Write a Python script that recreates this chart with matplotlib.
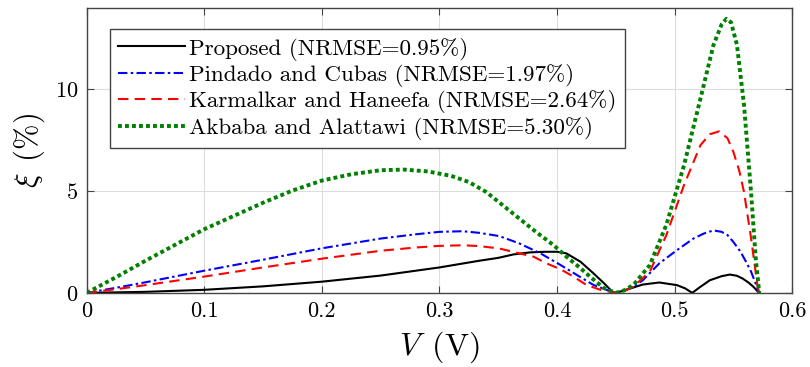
import numpy as np
import matplotlib
matplotlib.use("Agg")
import matplotlib.pyplot as plt

plt.rcParams['font.family'] = ['cmr10', 'DejaVu Serif']
plt.rcParams['mathtext.fontset'] = 'cm'
plt.rcParams['axes.formatter.use_mathtext'] = True
plt.rcParams['axes.unicode_minus'] = False

# Proposed
v_prop = [0, 0.05, 0.1, 0.15, 0.2, 0.25, 0.3, 0.334, 0.35, 0.363, 0.377, 0.39, 0.40,
          0.408, 0.42, 0.431, 0.44, 0.448, 0.455, 0.462, 0.473, 0.487, 0.502, 0.509,
          0.515, 0.522, 0.53, 0.54, 0.547, 0.553, 0.558, 0.563, 0.567, 0.571, 0.572]
xi_prop = [0, 0.05, 0.15, 0.32, 0.55, 0.85, 1.25, 1.58, 1.72, 1.89, 1.99, 2.02, 2.02,
           1.94, 1.53, 0.96, 0.47, 0.0, 0.08, 0.21, 0.41, 0.51, 0.38, 0.22,
           0.0, 0.3, 0.62, 0.82, 0.9, 0.84, 0.7, 0.5, 0.3, 0.05, 0]

# Pindado and Cubas
v_pind = [0, 0.025, 0.05, 0.1, 0.15, 0.2, 0.25, 0.28, 0.3, 0.32, 0.334, 0.351, 0.368, 0.386,
          0.403, 0.42, 0.431, 0.442, 0.45, 0.457, 0.465, 0.473, 0.487, 0.502, 0.516,
          0.525, 0.533, 0.54, 0.545, 0.55, 0.556, 0.561, 0.565, 0.568, 0.5705, 0.572]
xi_pind = [0, 0.25, 0.52, 1.09, 1.63, 2.19, 2.67, 2.88, 3.0, 3.03, 2.95, 2.79, 2.43, 1.94,
           1.37, 0.77, 0.39, 0.15, 0.0, 0.1, 0.3, 0.62, 1.45, 2.1, 2.67,
           2.92, 3.07, 3.0, 2.84, 2.5, 2.03, 1.5, 1.05, 0.6, 0.2, 0]

# Karmalkar and Haneefa
v_karm = [0, 0.025, 0.05, 0.1, 0.15, 0.2, 0.25, 0.28, 0.3, 0.32, 0.334, 0.351, 0.368, 0.38,
          0.391, 0.403, 0.414, 0.425, 0.437, 0.45, 0.457, 0.465, 0.479, 0.493, 0.508,
          0.522, 0.53, 0.538, 0.545, 0.55, 0.555, 0.559, 0.565, 0.5705, 0.572]
xi_karm = [0, 0.18, 0.38, 0.8, 1.25, 1.68, 2.07, 2.23, 2.31, 2.34, 2.3, 2.18, 1.94, 1.78,
           1.45, 1.16, 0.8, 0.39, 0.15, 0.0, 0.1, 0.3, 1.05, 2.84, 5.3,
           7.26, 7.8, 7.94, 7.6, 6.93, 6.0, 4.97, 2.7, 0.35, 0]

# Akbaba and Alattawi
v_akb = [0, 0.025, 0.05, 0.1, 0.15, 0.175, 0.2, 0.225, 0.25, 0.27, 0.29, 0.31, 0.325,
         0.34, 0.354, 0.368, 0.382, 0.397, 0.408, 0.42, 0.428, 0.44, 0.45, 0.457,
         0.465, 0.479, 0.493, 0.508, 0.522, 0.533, 0.54, 0.544, 0.548, 0.553, 0.559,
         0.565, 0.569, 0.572]
xi_akb = [0, 0.77, 1.58, 3.13, 4.43, 5.03, 5.52, 5.83, 6.03, 6.06, 5.97, 5.75, 5.45,
          4.95, 4.3, 3.65, 3.0, 2.35, 1.78, 1.21, 0.8, 0.23, 0.0, 0.12,
          0.39, 1.37, 3.35, 6.27, 9.55, 12.17, 13.2, 13.47, 13.3, 12.2, 9.26,
          4.97, 1.7, 0]

labels = ['Proposed (NRMSE=0.95%)',
          'Pindado and Cubas (NRMSE=1.97%)',
          'Karmalkar and Haneefa (NRMSE=2.64%)',
          'Akbaba and Alattawi (NRMSE=5.30%)']

fig = plt.figure(figsize=(8.1, 3.67), dpi=100)
ax = fig.add_axes([0.107, 0.202, 0.871, 0.776])

ax.plot(v_prop, xi_prop, '-', color='k', lw=1.5, label=labels[0])
ax.plot(v_pind, xi_pind, color='#0000ff', lw=1.5, dashes=(4.5, 1.6, 1.2, 1.6), label=labels[1])
ax.plot(v_karm, xi_karm, color='#ff0000', lw=1.5, dashes=(5, 3), label=labels[2])
ax.plot(v_akb, xi_akb, color='#008000', lw=2.8, dashes=(1, 0.8), label=labels[3])

ax.set_xlim(0, 0.6)
ax.set_ylim(0, 14)
ax.set_xticks([0, 0.1, 0.2, 0.3, 0.4, 0.5, 0.6])
ax.set_xticklabels(['0', '0.1', '0.2', '0.3', '0.4', '0.5', '0.6'])
ax.set_yticks([0, 5, 10])
ax.tick_params(direction='in', top=True, right=True, labelsize=16, length=5,
               color='#444444', pad=6)
ax.grid(True, color='#dddddd', lw=0.8)
for s in ax.spines.values():
    s.set_color('#444444')
    s.set_linewidth(1.0)

ax.set_xlabel(r'$V\enspace(\mathrm{V})$', fontsize=23, labelpad=6)
ax.set_ylabel(r'$\xi\enspace(\%)$', fontsize=22, labelpad=6)

leg = ax.legend(loc='upper left', bbox_to_anchor=(0.033, 0.925), fontsize=16.6,
                fancybox=False, framealpha=1, edgecolor='#444444',
                handlelength=2.9, handletextpad=0.2, labelspacing=0.15,
                borderpad=0.35, borderaxespad=0)
leg.get_frame().set_linewidth(1.0)

fig.savefig('out.png', dpi=100)
